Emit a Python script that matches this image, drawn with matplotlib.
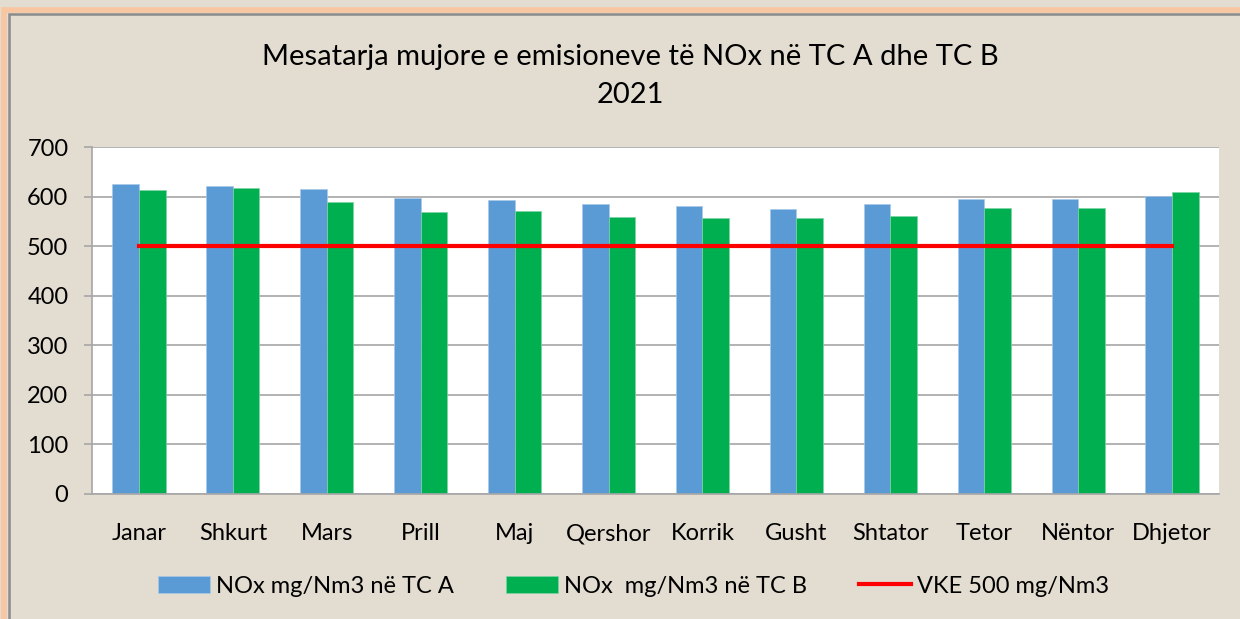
import matplotlib.pyplot as plt
from matplotlib.patches import Rectangle
import numpy as np

months = ["Janar", "Shkurt", "Mars", "Prill", "Maj", "Qershor", "Korrik",
          "Gusht", "Shtator", "Tetor", "Nëntor", "Dhjetor"]
nox_a = [625, 621, 616, 597, 593, 585, 581, 574, 585, 596, 596, 601]
nox_b = [613, 617, 590, 568, 570, 558, 557, 556, 560, 576, 576, 610]
vke = [500] * len(months)

label_a = "NOx mg/Nm3 në TC A"
label_b = "NOx  mg/Nm3 në TC B"
label_vke = "VKE 500 mg/Nm3"

plt.rcParams['font.family'] = ['Lato', 'DejaVu Sans']

bg = "#E3DCD0"
fig = plt.figure(figsize=(12.4, 6.19), dpi=100, facecolor=bg)

# outer frame: orange glow + gray line
fig.patches.append(Rectangle((4 / 1240, -0.1), 1.2, 1 - 10 / 619 + 0.1, transform=fig.transFigure,
                             fill=False, edgecolor="#F8C7A2", linewidth=4, zorder=0))
fig.patches.append(Rectangle((9 / 1240, -0.1), 1.2, 1 - 14 / 619 + 0.1, transform=fig.transFigure,
                             fill=False, edgecolor="#8C8C8C", linewidth=1.8, zorder=1))

ax = fig.add_axes([92 / 1240, 1 - 494 / 619, (1219 - 92) / 1240, (494 - 147) / 619])
ax.set_facecolor("white")

x = np.arange(len(months))
w = 0.283
bars_a = ax.bar(x - w / 2, nox_a, w, color="#5B9BD5", edgecolor="#A9C8EA", linewidth=0.5,
                label=label_a, zorder=2)
bars_b = ax.bar(x + w / 2, nox_b, w, color="#00B050", edgecolor="#7FD3A5", linewidth=0.5,
                label=label_b, zorder=2)
line_vke, = ax.plot(x, vke, color="#FF0000", linewidth=3, label=label_vke, zorder=3)

ax.set_xlim(-0.5, len(months) - 0.5)
ax.set_ylim(0, 700)
ax.set_yticks(range(0, 701, 100))
ax.yaxis.grid(True, color="#A6A6A6", linewidth=1.2, zorder=0)
ax.set_axisbelow(True)

ax.set_xticks(x)
ax.set_xticklabels(months)
ax.tick_params(axis="x", length=0, pad=21, labelsize=17)
ax.tick_params(axis="y", length=6, width=1.2, color="#A6A6A6", pad=11, labelsize=17)

for s in ["top", "right"]:
    ax.spines[s].set_visible(False)
ax.spines["left"].set_color("#A6A6A6")
ax.spines["bottom"].set_color("#A6A6A6")
ax.spines["left"].set_linewidth(1.2)
ax.spines["bottom"].set_linewidth(1.2)

fig.text(0.508, 0.908, "Mesatarja mujore e emisioneve të NOx në TC A dhe TC B",
         ha="center", va="center", fontsize=21)
fig.text(0.508, 0.847, "2021", ha="center", va="center", fontsize=21)

fig.legend([bars_a, bars_b, line_vke], [label_a, label_b, label_vke],
           loc="center", bbox_to_anchor=(0.511, 0.053), ncol=3, frameon=False,
           fontsize=17, handlelength=2.2, handleheight=0.7, handletextpad=0.25,
           columnspacing=2.2)

fig.savefig("out.png", dpi=100, facecolor=bg)
